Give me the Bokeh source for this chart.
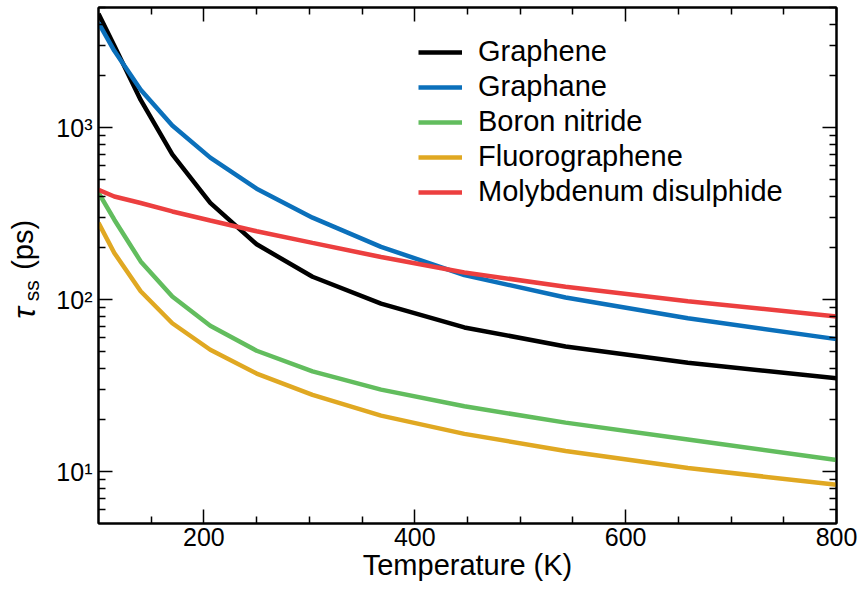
import math
from bokeh.plotting import figure
from bokeh.layouts import row
from bokeh.models import (LogAxis, LinearAxis, FixedTicker, ColumnDataSource,
                          CustomJSTickFormatter, Legend, LegendItem, Range1d)
from bokeh.core.properties import value
from bokeh.embed import file_html
from bokeh.resources import INLINE

# ---- data ----
temperature = [100, 115, 140, 170, 206, 250, 303, 368, 447, 543, 659, 800]
graphene = [4600, 3000, 1450, 700, 366, 210, 136, 95, 69, 53.5, 43, 35]
graphane = [4070, 2800, 1660, 1030, 670, 442, 300, 203, 139, 103, 78, 59]
boron_nitride = [420, 292, 167, 104.5, 70.6, 50.5, 38.3, 30, 24, 19.3, 15.4, 11.7]
fluorographene = [280, 187, 112, 73, 51.2, 37.2, 28, 21.2, 16.6, 13.2, 10.5, 8.4]
molybdenum = [436, 398, 365, 326, 289, 250, 214, 177, 144, 119, 98, 80]

series_names = ["Graphene", "Graphane", "Boron nitride", "Fluorographene",
                "Molybdenum disulphide"]
series_values = [graphene, graphane, boron_nitride, fluorographene, molybdenum]
series_colors = ["#000000", "#0b70bb", "#62bd5e", "#e0a822", "#ec3f3f"]

x_major_ticks = [200, 400, 600, 800]
x_minor_ticks = [150, 250, 300, 350, 450, 500, 550, 650, 700, 750]
y_major_ticks = [10, 100, 1000]
y_minor_ticks = [6, 7, 8, 9, 20, 30, 40, 50, 60, 70, 80, 90,
                 200, 300, 400, 500, 600, 700, 800, 900, 2000, 3000, 4000, 5000]

X0, X1 = 100, 800
Y0, Y1 = 5, 5000
FONT = "Liberation Sans"

W, H = 859, 590
TITLE_W = 45                     # strip holding the rotated y-axis title
FL, FR, FT, FB = 98, 836, 7, 523  # frame edges on the page (pixels)

p = figure(width=W - TITLE_W, height=H, y_axis_type="log",
           x_range=Range1d(X0, X1), y_range=Range1d(Y0, Y1),
           output_backend="svg", toolbar_location=None,
           min_border_left=FL - TITLE_W, min_border_right=W - FR,
           min_border_top=FT, min_border_bottom=H - FB)

p.grid.visible = False
p.outline_line_color = "black"
p.outline_line_width = 2
p.background_fill_color = "white"
p.border_fill_color = "white"

sup_js = """
const sup = {"-":"\u207b","0":"\u2070","1":"\u00b9","2":"\u00b2","3":"\u00b3",
             "4":"\u2074","5":"\u2075","6":"\u2076","7":"\u2077","8":"\u2078","9":"\u2079"};
const e = Math.round(Math.log10(tick));
return "10" + String(e).split("").map(c => sup[c]).join("");
"""

def style_axis(ax, show_labels):
    ax.axis_line_color = "black"
    ax.axis_line_width = 2
    ax.major_tick_in = 14
    ax.major_tick_out = 0
    ax.minor_tick_in = 7
    ax.minor_tick_out = 0
    ax.major_tick_line_color = "black"
    ax.major_tick_line_width = 1.5
    ax.minor_tick_line_color = "black"
    ax.minor_tick_line_width = 1.5
    ax.major_label_text_font = FONT
    ax.major_label_text_color = "black"
    if show_labels:
        ax.major_label_text_font_size = "25px"
    else:
        ax.major_label_text_font_size = "0px"
        ax.major_label_standoff = 0

# bottom x axis
xa = p.xaxis[0]
xa.ticker = FixedTicker(ticks=x_major_ticks, minor_ticks=x_minor_ticks)
style_axis(xa, True)
xa.major_label_standoff = 4
xa.axis_label = "Temperature (K)"
xa.axis_label_text_font = FONT
xa.axis_label_text_font_size = "29px"
xa.axis_label_text_font_style = "normal"
xa.axis_label_text_color = "black"
xa.axis_label_standoff = 0

# left y axis
ya = p.yaxis[0]
ya.ticker = FixedTicker(ticks=y_major_ticks, minor_ticks=y_minor_ticks)
ya.formatter = CustomJSTickFormatter(code=sup_js)
style_axis(ya, True)
ya.major_label_standoff = 6

# top and right axes (ticks only)
xt = LinearAxis(ticker=FixedTicker(ticks=x_major_ticks, minor_ticks=x_minor_ticks),
                formatter=CustomJSTickFormatter(code="return ''"))
style_axis(xt, False)
p.add_layout(xt, "above")
yr = LogAxis(ticker=FixedTicker(ticks=y_major_ticks, minor_ticks=y_minor_ticks),
             formatter=CustomJSTickFormatter(code="return ''"))
style_axis(yr, False)
p.add_layout(yr, "right")

# lines
items = []
for name, vals, col in zip(series_names, series_values, series_colors):
    r = p.line(temperature, vals, line_color=col, line_width=4.5)
    items.append(LegendItem(label=name, renderers=[r]))

legend = Legend(items=items, location=(320, FB - 208),
                label_text_font=FONT, label_text_font_size="29px",
                label_text_color="black",
                glyph_width=44, glyph_height=20, label_height=20,
                label_standoff=16, spacing=2, padding=0, margin=0,
                border_line_color=None, background_fill_alpha=0)
p.add_layout(legend, "center")

# ---- y-axis title strip: "τ" (italic) + subscript "ss" + "(ps)" ----
t = figure(width=TITLE_W, height=H, x_range=Range1d(0, TITLE_W), y_range=Range1d(0, H),
           x_axis_location=None, y_axis_location=None, title=None,
           output_backend="svg", toolbar_location=None,
           min_border_left=0, min_border_right=0, min_border_top=0, min_border_bottom=0)
t.grid.visible = False
t.outline_line_color = None
t.background_fill_color = "white"
t.border_fill_color = "white"

title_parts = ["τ", "ss", "(ps)"]
title_sizes = ["31px", "21px", "29px"]
title_styles = ["italic", "normal", "normal"]
title_x = [24, 31, 22]          # baselines
title_y = [234, 254, 290]       # text starts
src = ColumnDataSource(dict(x=title_x, y=title_y, text=title_parts,
                            size=title_sizes, style=title_styles))
t.text(x="x", y="y", text="text", source=src, angle=math.pi / 2,
       text_font=value(FONT), text_font_size="size", text_font_style="style",
       text_baseline="alphabetic", text_align="left", text_color="black")

layout = row(t, p, spacing=0)
open("out.html", "w").write(file_html(layout, INLINE))
